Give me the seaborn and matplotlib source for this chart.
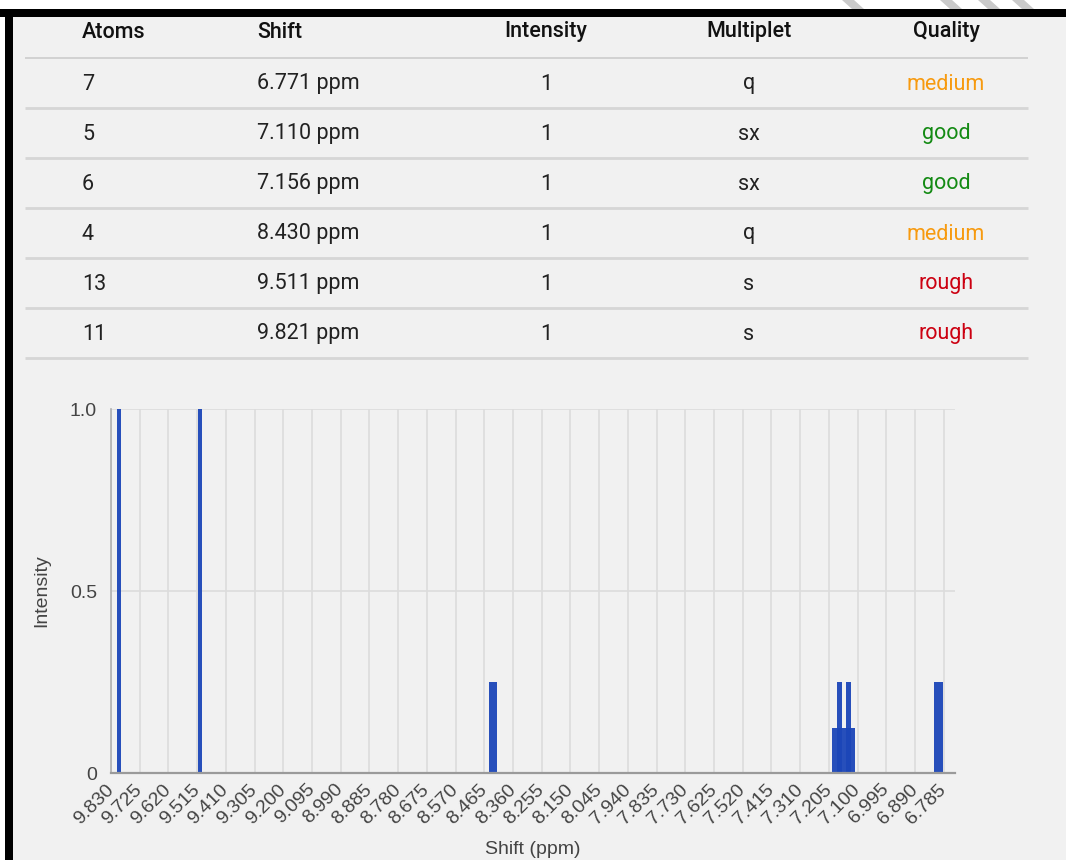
import numpy as np
import matplotlib.pyplot as plt
import seaborn as sns
from matplotlib.patches import Rectangle, Polygon

# ---- table values ----
atoms = ["7", "5", "6", "4", "13", "11"]
shift_ppm = [6.771, 7.110, 7.156, 8.430, 9.511, 9.821]
intensity = [1, 1, 1, 1, 1, 1]
multiplet = ["q", "sx", "sx", "q", "s", "s"]
quality = ["medium", "good", "good", "medium", "rough", "rough"]

# ---- spectrum lines as drawn in the chart ----
line_shift = [9.801, 9.505, 8.433, 7.180, 7.152, 7.124, 7.1675, 7.134, 6.806]
line_height = [1.0, 1.0, 0.25, 0.125, 0.125, 0.125, 0.25, 0.25, 0.25]

tick_labels = ["9.830", "9.725", "9.620", "9.515", "9.410", "9.305", "9.200",
               "9.095", "8.990", "8.885", "8.780", "8.675", "8.570", "8.465",
               "8.360", "8.255", "8.150", "8.045", "7.940", "7.835", "7.730",
               "7.625", "7.520", "7.415", "7.310", "7.205", "7.100", "6.995",
               "6.890", "6.785"]

# bar widths (ppm) for each drawn line
bar_width = [0.015, 0.015, 0.029, 0.029, 0.029, 0.029, 0.018, 0.018, 0.033]

quality_colors = {"medium": "#f79a0f", "good": "#138a13", "rough": "#cc0011"}
bar_color = "#1c46b8"

sns.set_style("white")
plt.rcParams["font.family"] = ["Liberation Sans", "DejaVu Sans"]

W, H = 1066, 860
fig = plt.figure(figsize=(W / 100, H / 100), dpi=100, facecolor="white")

# page background / table, in pixel coordinates
bg = fig.add_axes([0, 0, 1, 1], zorder=0)
bg.set_xlim(0, W)
bg.set_ylim(H, 0)
bg.axis("off")
bg.add_patch(Rectangle((5, 9), W - 5, H - 9, facecolor="#f1f1f1", edgecolor="none"))
bg.add_patch(Rectangle((0, 9), W, 8, facecolor="black", edgecolor="none"))
bg.add_patch(Rectangle((5, 9), 8, H - 9, facecolor="black", edgecolor="none"))
for x0 in [842, 940, 978, 1012]:
    bg.add_patch(Polygon([(x0, 0), (x0 + 12, 0), (x0 + 22, 9), (x0 + 10, 9)],
                         closed=True, facecolor="#b4b4b4", edgecolor="none",
                         alpha=0.7))

tfont = ["Roboto", "DejaVu Sans"]
hdr_y = 32
for label, x, ha in [("Atoms", 82, "left"), ("Shift", 257, "left"),
                     ("Intensity", 546, "center"), ("Multiplet", 749, "center"),
                     ("Quality", 946, "center")]:
    bg.text(x, hdr_y, label, ha=ha, va="center", fontsize=15.5, family=tfont,
            weight="medium", color="#111111")
bg.plot([25, 1028], [58, 58], color="#d2d2d2", lw=1.4, solid_capstyle="butt")

for i in range(len(atoms)):
    y = 84 + 50 * i
    bg.text(82, y, atoms[i], ha="left", va="center", fontsize=15.5, family=tfont,
            color="#222222")
    bg.text(257, y, f"{shift_ppm[i]:.3f} ppm", ha="left", va="center", fontsize=15.5,
            family=tfont, color="#222222")
    bg.text(546, y, str(intensity[i]), ha="center", va="center", fontsize=15.5,
            family=tfont, color="#222222")
    bg.text(749, y, multiplet[i], ha="center", va="center", fontsize=15.5,
            family=tfont, color="#222222")
    bg.text(946, y, quality[i], ha="center", va="center", fontsize=15.5,
            family=tfont, color=quality_colors[quality[i]])
    bg.plot([25, 1028], [83 + 50 * i + 25] * 2, color="#d6d6d6", lw=2.0,
            solid_capstyle="butt")

# ---- spectrum chart ----
ax = fig.add_axes([111 / W, 1 - 773 / H, 844 / W, 364 / H], zorder=1)
ax.set_facecolor("none")
ax.set_axisbelow(True)

for s, h, w in zip(line_shift, line_height, bar_width):
    sns.barplot(x=[s], y=[h], native_scale=True, width=w, color=bar_color,
                saturation=1, errorbar=None, linewidth=0, alpha=0.95,
                orient="x", ax=ax)

ax.set_xlim(9.830, 6.744)
ax.set_ylim(0, 1)

ax.set_xticks([float(t) for t in tick_labels])
ax.set_xticklabels(tick_labels, rotation=45, ha="right", va="center",
                   rotation_mode="anchor", fontsize=14, color="#444444")
ax.set_yticks([0, 0.5, 1.0])
ax.set_yticklabels(["0", "0.5", "1.0"], fontsize=14, color="#444444")
ax.tick_params(axis="x", length=0, pad=10)
ax.tick_params(axis="y", length=0, pad=10)

ax.grid(True, color="#dcdcdc", lw=1.2)
for side in ["top", "right"]:
    ax.spines[side].set_visible(False)
ax.spines["left"].set_color("#b0b0b0")
ax.spines["left"].set_linewidth(1.2)
ax.spines["bottom"].set_color("#9a9a9a")
ax.spines["bottom"].set_linewidth(1.6)
ax.spines["bottom"].set_zorder(3)

ax.set_xlabel("Shift (ppm)", fontsize=14, color="#444444")
ax.set_ylabel("Intensity", fontsize=14, color="#444444")
ax.xaxis.label.set_va("center")
ax.yaxis.label.set_va("center")
ax.xaxis.set_label_coords(0.5, -76 / 364)
ax.yaxis.set_label_coords(-69 / 844, 0.5)

fig.savefig("out.png", dpi=100, facecolor=fig.get_facecolor())
